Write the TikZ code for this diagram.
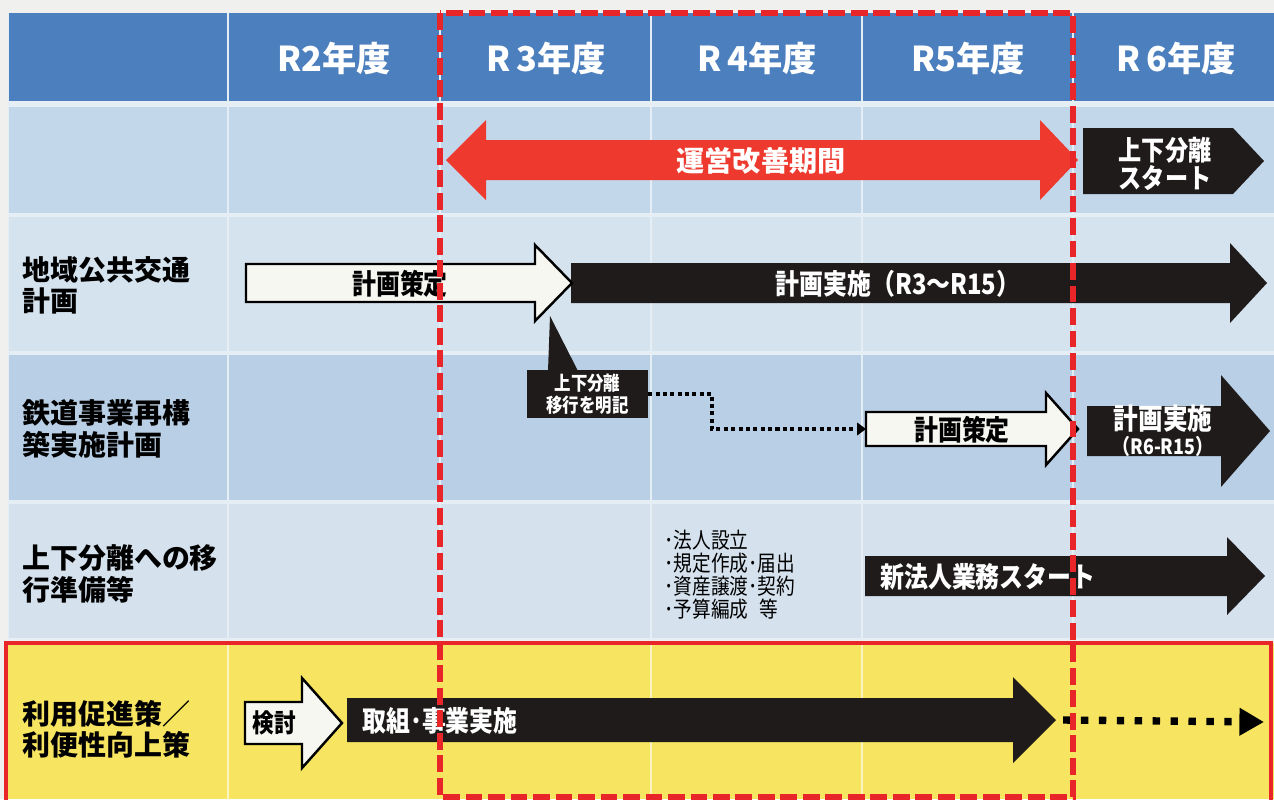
\documentclass[tikz,border=0pt]{standalone}
\usepackage{fontspec}
\setmainfont{Noto Sans CJK JP}
\newfontfamily\jpc[FakeStretch=0.85]{Noto Sans CJK JP}
\usetikzlibrary{arrows.meta}
\definecolor{pagebg}{HTML}{F0F0EE}
\definecolor{gapc}{HTML}{E6EEF5}
\definecolor{hdrblue}{HTML}{4C7FBE}
\definecolor{rowa}{HTML}{C3D7EA}
\definecolor{rowb}{HTML}{D5E3EF}
\definecolor{rowc}{HTML}{B9CFE5}
\definecolor{rowd}{HTML}{D5E2EE}
\definecolor{yel}{HTML}{F7E460}
\definecolor{redc}{HTML}{E8262A}
\definecolor{arrred}{HTML}{EE3A2E}
\definecolor{blk}{HTML}{1F1B1B}
\definecolor{arrwhite}{HTML}{F7F7F2}
\newcommand\fsz[2]{\fontsize{#1}{#2}\selectfont}
\newcommand\blockarr[8]{%
  \path[#2] ({#3},{#6-#7}) -- ({#4},{#6-#7}) -- ({#4},{#6-#8}) -- ({#5},{#6})
     -- ({#4},{#6+#8}) -- ({#4},{#6+#7}) -- ({#3},{#6+#7}) -- cycle;
  \coordinate (#1-w) at ({#3},{#6});
  \coordinate (#1-e) at ({#5},{#6});
}
\tikzset{
  hdr/.style={text=white, font=\bfseries\fsz{19.5}{22}, inner sep=0},
  rowlab/.style={anchor=west, align=left, font=\bfseries\fsz{15.9}{17.8}, inner sep=0},
  blkarr/.style={fill=blk},
  wharr/.style={fill=arrwhite, draw=black, line width=1.4pt, line join=miter},
  wtxt/.style={text=white, font=\jpc\bfseries\fsz{16}{18}, inner sep=0},
  ktxt/.style={text=black, font=\jpc\bfseries\fsz{16}{18}, inner sep=0},
  dotline/.style={draw=black, line width=2.3pt, dash pattern=on 2.3pt off 1.9pt, -{Triangle[length=5pt,width=7pt]}},
  bigdot/.style={draw=black, line width=4.2pt, dash pattern=on 4.2pt off 6pt, -{Triangle[length=14pt,width=15pt]}},
  reddash/.style={draw=redc, line width=3.2pt, dash pattern=on 9.6pt off 3.2pt},
}
\begin{document}
\begin{tikzpicture}[x=0.02cm,y=-0.02cm]
\useasboundingbox (0,0) rectangle (1274,799);
\fill[pagebg] (0,0) rectangle (1274,799);
\fill[gapc] (8,13) rectangle (1274,640);
% table cells
\foreach \xa/\xb in {8/228,228/440,440/651,651/862,862/1073,1073/1275} {
  \fill[hdrblue] ({\xa+1},13) rectangle ({\xb-1},101);
  \fill[rowa] ({\xa+1},107) rectangle ({\xb-1},213);
  \fill[rowb] ({\xa+1},217) rectangle ({\xb-1},351);
  \fill[rowc] ({\xa+1},355) rectangle ({\xb-1},500);
  \fill[rowd] ({\xa+1},504) rectangle ({\xb-1},638);
}
% yellow row
\fill[yel] (8,643) rectangle (1274,799);
\foreach \x in {228,651,862} \draw[white!60!yel, line width=0.6pt] (\x,645) -- (\x,799);
\draw[redc, line width=1.8pt] (6,643) rectangle (1271,805);

% header
\node[hdr] (h2) at (334,58) {R2年度};
\node[hdr] (h3) at (546,58) {R\,3年度};
\node[hdr] (h4) at (757,58) {R\,4年度};
\node[hdr] (h5) at (968,58) {R5年度};
\node[hdr] (h6) at (1176,58) {R\,6年度};

% row labels
\node[rowlab] (l2) at (22,285) {地域公共交通\\計画};
\node[rowlab] (l3) at (22,429) {鉄道事業再構\\築実施計画};
\node[rowlab] (l4) at (22,574) {上下分離への移\\行準備等};
\node[rowlab] (l5) at (22,729) {利用促進策／\\利便性向上策};

% row 1: operation improvement period
\fill[arrred] (446,160) -- (486,120) -- (486,140) -- (1040,140) -- (1040,120) -- (1078,160)
   -- (1040,200) -- (1040,180) -- (486,180) -- (486,200) -- cycle;
\node[text=white, font=\bfseries\fsz{16}{18}, inner sep=0] (period) at (761,161) {運営改善期間};
\fill[blk] (1083,128) -- (1233,128) -- (1264,161) -- (1233,194) -- (1083,194) -- cycle;
\node[wtxt, align=center, font=\jpc\bfseries\fsz{15.5}{15.9}] (start) at (1165,164) {上下分離\\スタート};

% row 2
\blockarr{exec2}{blkarr}{571}{1230}{1267}{283}{20}{40}
\blockarr{plan2}{wharr}{246}{535}{572}{283}{19}{38}
\node[ktxt] (plan2t) at (400,284) {計画策定};
\node[wtxt] (exec2t) at (898,284) {計画実施（R3～R15）};

% callout
\fill[blk] (548,371) -- (550,316) -- (578,371) -- cycle;
\node[fill=blk, text=white, minimum width=68.6pt, minimum height=27.2pt, inner sep=0,
      align=center, font=\jpc\bfseries\fsz{11}{12.5}] (note) at (587.5,394) {上下分離\\移行を明記};

% row 3
\blockarr{plan3}{wharr}{866}{1046}{1078}{429}{17}{36}
\node[ktxt] (plan3t) at (962,430) {計画策定};
\blockarr{exec3}{blkarr}{1087}{1221}{1270}{431}{25}{56}
\node[wtxt, font=\jpc\bfseries\fsz{16.5}{18}] (exec3t) at (1163,418) {計画実施};
\node[wtxt, font=\jpc\bfseries\fsz{12}{14}] (exec3r) at (1163,446) {（R6-R15）};
\coordinate (bend) at (712,0);
\draw[dotline] (note.east) -- (note.east -| bend) |- (plan3-w);

% row 4
\node[anchor=north west, align=left, inner sep=0, font=\jpc\fsz{12.5}{13}] (tasks) at (664,530)
  {･法人設立\\･規定作成･届出\\･資産譲渡･契約\\･予算編成\enspace 等};
\blockarr{corp}{blkarr}{865}{1227}{1265}{576}{20}{39}
\node[wtxt, anchor=west] (corpt) at (880,577) {新法人業務スタート};

% row 5
\blockarr{study}{wharr}{245}{302}{342}{723}{21}{45}
\node[ktxt, font=\jpc\bfseries\fsz{14.5}{16}] (studyt) at (274,723) {検討};
\blockarr{act}{blkarr}{347}{1013}{1056}{720}{22}{43}
\node[wtxt, anchor=west] (actt) at (362,721) {取組･事業実施};
\coordinate (cont) at (1264,722);
\draw[bigdot] ([xshift=4pt]act-e) -- (cont);

% red dashed frame
\draw[reddash] (440,13) rectangle (1073,797);
\end{tikzpicture}
\end{document}
